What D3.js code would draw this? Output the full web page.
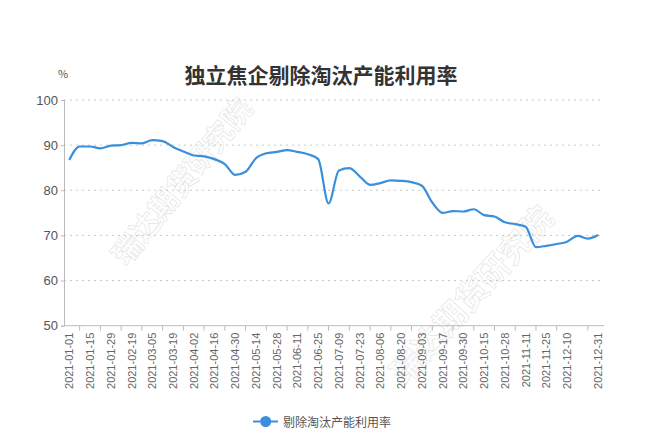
<!DOCTYPE html>
<html>
<head>
<meta charset="utf-8">
<script src="https://cdn.jsdelivr.net/npm/d3@7/dist/d3.min.js"></script>
<style>
html,body{margin:0;padding:0;background:#fff;}
svg{display:block;font-family:"Noto Sans CJK SC","Noto Sans",sans-serif;}
</style>
</head>
<body>
<svg id="chart" width="658" height="448"></svg>
<script>
const title = "独立焦企剔除淘汰产能利用率";
const seriesName = "剔除淘汰产能利用率";
const unitLabel = "%";
const watermark = "瑞达期货研究院";
const dates = [
  "2021-01-01","2021-01-08","2021-01-15","2021-01-22","2021-01-29","2021-02-05","2021-02-19","2021-02-26",
  "2021-03-05","2021-03-12","2021-03-19","2021-03-26","2021-04-02","2021-04-09","2021-04-16","2021-04-23",
  "2021-04-30","2021-05-07","2021-05-14","2021-05-21","2021-05-28","2021-06-04","2021-06-11","2021-06-18",
  "2021-06-25","2021-07-02","2021-07-09","2021-07-16","2021-07-23","2021-07-30","2021-08-06","2021-08-13",
  "2021-08-20","2021-08-27","2021-09-03","2021-09-10","2021-09-17","2021-09-24","2021-09-30","2021-10-08",
  "2021-10-15","2021-10-22","2021-10-28","2021-11-05","2021-11-11","2021-11-19","2021-11-25","2021-12-03",
  "2021-12-10","2021-12-17","2021-12-24","2021-12-31"
];
const values = [
  86.7, 89.7, 89.7, 89.3, 89.9, 90.0, 90.5, 90.4,
  91.1, 90.9, 89.6, 88.6, 87.7, 87.5, 86.9, 85.8,
  83.4, 84.1, 87.1, 88.2, 88.5, 88.9, 88.5, 88.0,
  86.9, 77.1, 84.4, 84.9, 83.1, 81.2, 81.6, 82.2,
  82.1, 81.8, 81.0, 77.3, 75.0, 75.4, 75.3, 75.8,
  74.5, 74.2, 72.9, 72.5, 71.9, 67.4, 67.7, 68.1,
  68.6, 69.9, 69.3, 70.1
];
const yTicks = [50, 60, 70, 80, 90, 100];
// indices of labelled categories, and of tick marks
const labelIdx = d3.range(0, 49, 2).concat([51]);
const tickIdx = d3.range(1, 48, 2).concat([50]);

const svg = d3.select("#chart");

const x = d3.scalePoint().domain(dates).range([69.3, 598.2]);
const y = d3.scaleLinear().domain([50, 100]).range([325.7, 100]);
const plotL = 64, plotR = 604;

// watermarks
[[180, 180, -51, 29], [470, 293, -48, 32]].forEach(([cx, cy, a, fs]) => {
  svg.append("text")
    .attr("transform", `translate(${cx},${cy}) rotate(${a})`)
    .attr("text-anchor", "middle").attr("dominant-baseline", "central")
    .attr("font-size", fs).attr("font-weight", "bold")
    .attr("fill", "none").attr("stroke", "#e2e2e2").attr("stroke-width", 0.6)
    .text(watermark);
});

// grid lines
svg.append("g").selectAll("line").data(yTicks.filter(d => d > 50)).join("line")
  .attr("x1", plotL).attr("x2", plotR)
  .attr("y1", d => y(d)).attr("y2", d => y(d))
  .attr("stroke", "#c8c8c8").attr("stroke-width", 1)
  .attr("stroke-dasharray", "2,4");

// y axis
const yAxis = d3.axisLeft(y).tickValues(yTicks).tickSize(3).tickPadding(3);
const gy = svg.append("g").attr("transform", `translate(${plotL},0)`).call(yAxis);
gy.select(".domain").attr("stroke", "#bbb");
gy.selectAll(".tick line").attr("stroke", "#bbb");
gy.selectAll(".tick text").attr("fill", "#555").attr("font-size", 13)
  .attr("font-family", "'Liberation Sans','DejaVu Sans',sans-serif");

// x axis
const gx = svg.append("g").attr("transform", `translate(0,${y(50)})`);
gx.append("line").attr("x1", plotL).attr("x2", plotR).attr("y1", 0).attr("y2", 0).attr("stroke", "#bbb");
gx.selectAll("line.tk").data(tickIdx).join("line").attr("class", "tk")
  .attr("x1", i => x(dates[i])).attr("x2", i => x(dates[i]))
  .attr("y1", 0).attr("y2", 5).attr("stroke", "#bbb");
gx.selectAll("text").data(labelIdx).join("text")
  .attr("transform", i => `translate(${x(dates[i])},7) rotate(-90)`)
  .attr("text-anchor", "end").attr("dominant-baseline", "central")
  .attr("font-size", 11).attr("fill", "#666")
  .attr("font-family", "'Liberation Sans','DejaVu Sans',sans-serif")
  .text(i => dates[i]);

// line
const line = d3.line().x((d, i) => x(dates[i])).y(d => y(d)).curve(d3.curveMonotoneX);
svg.append("path").datum(values)
  .attr("d", line).attr("fill", "none")
  .attr("stroke", "#3a8fdc").attr("stroke-width", 2.2)
  .attr("stroke-linejoin", "round");

// title
svg.append("text").attr("x", 321).attr("y", 74)
  .attr("text-anchor", "middle").attr("dominant-baseline", "central")
  .attr("font-size", 21).attr("font-weight", "bold").attr("fill", "#333")
  .text(title);

// unit
svg.append("text").attr("x", 63).attr("y", 73)
  .attr("text-anchor", "middle").attr("dominant-baseline", "central")
  .attr("font-size", 11).attr("fill", "#555").text(unitLabel);

// legend
const lg = svg.append("g");
lg.append("line").attr("x1", 253).attr("x2", 278).attr("y1", 421.5).attr("y2", 421.5)
  .attr("stroke", "#3a8fdc").attr("stroke-width", 2);
lg.append("circle").attr("cx", 265.7).attr("cy", 421.5).attr("r", 5.5).attr("fill", "#3a8fdc");
lg.append("text").attr("x", 283).attr("y", 421.5).attr("dominant-baseline", "central")
  .attr("font-size", 12).attr("fill", "#555").text(seriesName);
</script>
</body>
</html>
